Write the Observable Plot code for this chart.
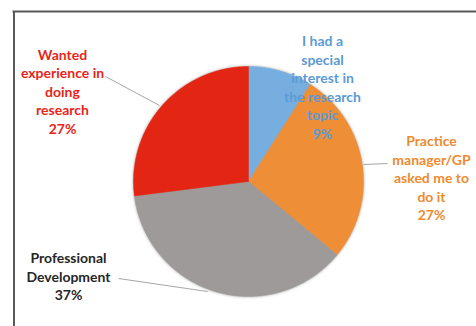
<!DOCTYPE html>
<html>
<head>
<meta charset="utf-8">
<script src="https://cdn.jsdelivr.net/npm/d3@7"></script>
<script src="https://cdn.jsdelivr.net/npm/@observablehq/plot@0.6"></script>
<style>
  html, body { margin: 0; padding: 0; background: #fff; }
  #chart svg { display: block; }
  #chart svg g[aria-label="line"] { filter: drop-shadow(0 0 1.5px rgba(0,0,0,0.35)); }
</style>
</head>
<body>
<div id="chart"></div>
<script>
// ---- data ----
const categories = [
  "I had a special interest in the research topic",
  "Practice manager/GP asked me to do it",
  "Professional Development",
  "Wanted experience in doing research"
];
const labelLines = [
  "I had a\nspecial\ninterest in\nthe research\ntopic",
  "Practice\nmanager/GP\nasked me to\ndo it",
  "Professional\nDevelopment",
  "Wanted\nexperience in\ndoing\nresearch"
];
const values = [9, 27, 37, 27];

// ---- styles / layout ----
const sliceColors = ["#76AEDF", "#EE8E36", "#9E9A99", "#E32613"];
const textColors = ["#5B9BD5", "#EE8A30", "#262626", "#E8241A"];
const W = 476, H = 326;
const cx = 248, cy = 181, R = 115;
const labelPos = [[322, 86], [431, 177], [68, 275.5], [62, 90.5]];
const leaders = [null, [[363, 164], [387, 163]], [[118, 278], [207, 291]], [[105, 76], [159, 105]]];

const arcs = d3.pie().sort(null).startAngle(0)(values);
const slicePts = [];
arcs.forEach((a, i) => {
  slicePts.push({k: i, x: cx, y: cy});
  const n = Math.max(4, Math.ceil((a.endAngle - a.startAngle) / 0.01));
  for (let j = 0; j <= n; j++) {
    const t = a.startAngle + (a.endAngle - a.startAngle) * j / n;
    slicePts.push({k: i, x: cx + R * Math.sin(t), y: cy - R * Math.cos(t)});
  }
  slicePts.push({k: i, x: cx, y: cy});
});

const labels = categories.map((c, i) => ({
  text: labelLines[i] + "\n" + values[i] + "%",
  x: labelPos[i][0], y: labelPos[i][1], color: textColors[i]
}));
const leaderSegs = leaders.map((l, i) => l && {x1: l[0][0], y1: l[0][1], x2: l[1][0], y2: l[1][1]}).filter(Boolean);

const chart = Plot.plot({
  width: W, height: H,
  margin: 0,
  x: {domain: [0, W], range: [0, W], axis: null},
  y: {domain: [0, H], range: [0, H], axis: null},
  style: {background: "#fff"},
  marks: [
    Plot.ruleX([13.5], {y1: 11, y2: H, stroke: "#595959", strokeWidth: 2}),
    Plot.ruleY([11], {x1: 12.5, x2: W, stroke: "#595959", strokeWidth: 2}),
    Plot.line(slicePts, {x: "x", y: "y", z: "k", fill: d => sliceColors[d.k], stroke: d => sliceColors[d.k], strokeWidth: 0.5, curve: "linear"}),
    Plot.link(leaderSegs, {x1: "x1", y1: "y1", x2: "x2", y2: "y2", stroke: "#A6A6A6", strokeWidth: 1}),
    Plot.text(labels, {x: "x", y: "y", text: "text", fill: "color", fontSize: 14, fontWeight: "bold", fontFamily: "Lato", lineHeight: 1.32, textAnchor: "middle"})
  ]
});
document.getElementById("chart").appendChild(chart);
</script>
</body>
</html>
